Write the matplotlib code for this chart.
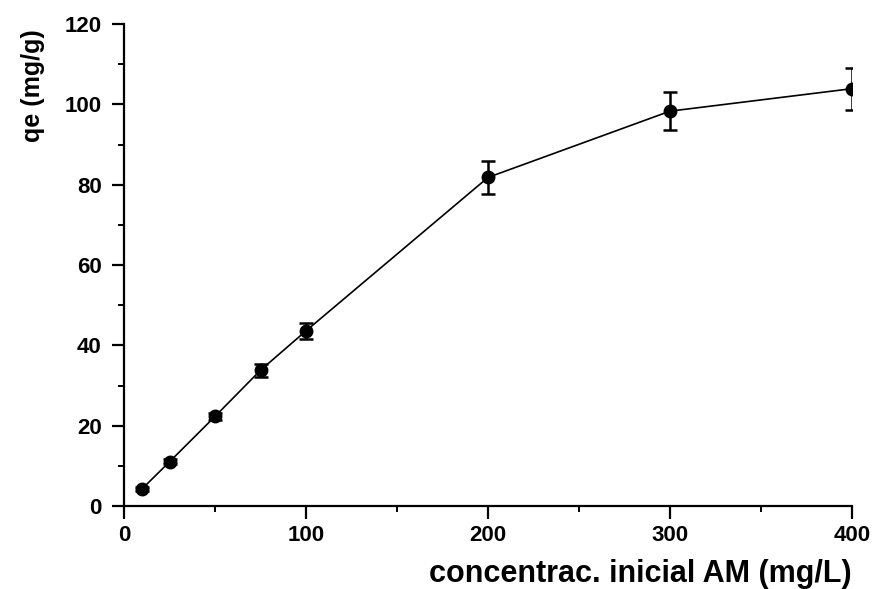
import matplotlib.pyplot as plt
from matplotlib.ticker import MultipleLocator

# concentracao inicial de AM (mg/L) e capacidade de adsorcao qe (mg/g)
conc = [10, 25, 50, 75, 100, 200, 300, 400]
qe = [4.3, 11.0, 22.3, 33.8, 43.6, 81.8, 98.3, 103.9]
erro = [0.5, 0.6, 0.9, 1.6, 2.0, 4.0, 4.7, 5.2]

plt.rcParams['font.family'] = ['Liberation Sans', 'DejaVu Sans']
plt.rcParams['font.weight'] = 'bold'

fig = plt.figure(figsize=(8.89, 5.89), dpi=100)
ax = fig.add_axes([124/889, 1 - 506/589, 728/889, 482/589])

ax.errorbar(conc, qe, yerr=erro, color='black', marker='o', markersize=9,
            linewidth=1.2, elinewidth=1.8, capsize=5, capthick=1.8)

ax.set_xlim(0, 400)
ax.set_ylim(0, 120)
ax.xaxis.set_major_locator(MultipleLocator(100))
ax.xaxis.set_minor_locator(MultipleLocator(50))
ax.yaxis.set_major_locator(MultipleLocator(20))
ax.yaxis.set_minor_locator(MultipleLocator(10))

for s in ['top', 'right']:
    ax.spines[s].set_visible(False)
for s in ['left', 'bottom']:
    ax.spines[s].set_linewidth(1.6)

ax.tick_params(which='major', direction='out', length=9, width=1.6,
               labelsize=16, pad=5)
ax.tick_params(axis='y', which='major', pad=7)
ax.tick_params(which='minor', direction='out', length=4.5, width=1.4)
for lab in ax.get_xticklabels() + ax.get_yticklabels():
    lab.set_fontweight('bold')

fig.text(852/889, 1 - 582/589, 'concentrac. inicial AM (mg/L)', ha='right',
         va='baseline', fontsize=22, fontweight='bold')
fig.text(33/889, 1 - 29/589, 'qe (mg/g)', rotation=90, ha='center',
         va='top', fontsize=18, fontweight='bold')

fig.savefig('out.png', dpi=100)
